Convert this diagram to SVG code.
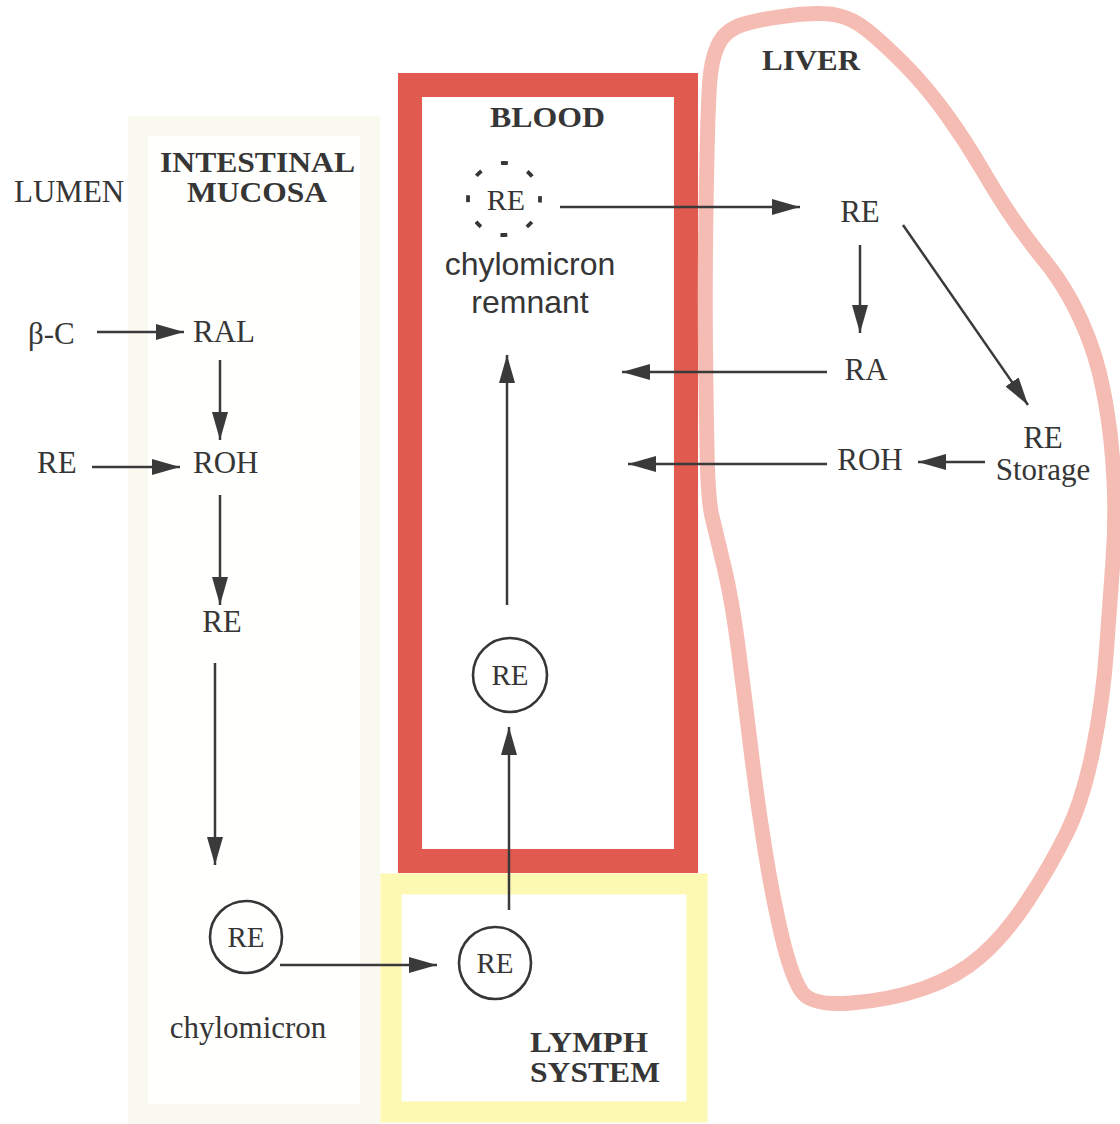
<svg xmlns="http://www.w3.org/2000/svg" width="1120" height="1124" viewBox="0 0 1120 1124">
<style>
.t{font-family:"Liberation Serif","Times New Roman",serif;font-size:31px;fill:#363636}
.b{font-family:"Liberation Serif","Times New Roman",serif;font-size:29px;font-weight:bold;fill:#363636}
.s{font-family:"Liberation Sans",Arial,sans-serif;font-size:32px;fill:#363636}
.c{fill:none;stroke:#363636;stroke-width:2.6}
.a{stroke:#3a3a3a;stroke-width:2.5;fill:none}
</style>
<defs>
<marker id="ah" markerUnits="userSpaceOnUse" markerWidth="30" markerHeight="18" refX="28" refY="8" orient="auto">
<path d="M0,0 L28,8 L0,16 Z" fill="#3a3a3a"/>
</marker>
</defs>
<rect width="1120" height="1124" fill="#ffffff"/>
<g id="mucosa">
<rect x="138" y="126" width="232" height="988" fill="#fffffd" stroke="#faf9ef" stroke-width="20"/>
<text class="b" x="160" y="172" textLength="195" lengthAdjust="spacingAndGlyphs">INTESTINAL</text>
<text class="b" x="187" y="202" textLength="140" lengthAdjust="spacingAndGlyphs">MUCOSA</text>
</g>
<g id="lymph">
<rect x="391" y="884" width="306" height="228" fill="#ffffff" stroke="#fdf9b2" stroke-width="21"/>
<text class="b" x="530" y="1052" textLength="118" lengthAdjust="spacingAndGlyphs">LYMPH</text>
<text class="b" x="530" y="1082" textLength="130" lengthAdjust="spacingAndGlyphs">SYSTEM</text>
</g>
<g id="blood">
<rect x="410" y="85" width="276" height="776" fill="#ffffff" stroke="#e05a50" stroke-width="24"/>
<text class="b" x="490" y="127" textLength="115" lengthAdjust="spacingAndGlyphs">BLOOD</text>
</g>
<g id="liver">
<path d="M707,450 Q706,400 705.5,350 Q705,300 705.5,250 Q706,200 707,155 Q708,110 709.5,85 Q711,60 718,45 Q725,30 742.5,24.5 Q760,19 790,15.5 Q820,12 836,15 Q852,18 867,30 Q882,42 903.5,63.5 Q925,85 945,112.5 Q965,140 982.5,170 Q1000,200 1015,221.5 Q1030,243 1044,260 Q1058,277 1070,298.5 Q1082,320 1091,345 Q1100,370 1106,405 Q1112,440 1114,480 Q1116,520 1113,560 Q1110,600 1106.5,650 Q1103,700 1093,750 Q1083,800 1066.5,833.5 Q1050,867 1027.5,901 Q1005,935 981,956 Q957,977 923.5,988.5 Q890,1000 851,1003 Q812,1006 802,992 Q792,978 782.5,939 Q773,900 765,850 Q757,800 751,750 Q745,700 738.5,650 Q732,600 724,566.5 Q716,533 712,516.5 Q708,500 707,450 Z" fill="none" stroke="#f5bcb3" stroke-width="15" stroke-linejoin="round"/>
<text class="b" x="762" y="70" textLength="98" lengthAdjust="spacingAndGlyphs">LIVER</text>
</g>
<g id="lumen"><text class="t" x="14" y="202">LUMEN</text></g>
<g id="bc"><text class="t" x="28" y="344">β-C</text></g>
<g id="ral"><text class="t" x="193" y="342">RAL</text></g>
<g id="re-lumen"><text class="t" x="37" y="473">RE</text></g>
<g id="roh-muc"><text class="t" x="193" y="473">ROH</text></g>
<g id="re-muc"><text class="t" x="222" y="632" text-anchor="middle">RE</text></g>
<g id="chylo">
<circle class="c" cx="246" cy="937" r="36"/>
<text class="t" x="246" y="947" text-anchor="middle" style="font-size:29px">RE</text>
<text class="t" x="248" y="1038" text-anchor="middle">chylomicron</text>
</g>
<g id="chylo-lymph">
<circle class="c" cx="495" cy="963" r="36"/>
<text class="t" x="495" y="973" text-anchor="middle" style="font-size:29px">RE</text>
</g>
<g id="chylo-blood">
<circle class="c" cx="510" cy="675" r="37"/>
<text class="t" x="510" y="685" text-anchor="middle" style="font-size:29px">RE</text>
</g>
<g id="remnant">
<circle cx="504" cy="199" r="36" fill="none" stroke="#363636" stroke-width="3.8" stroke-dasharray="7 21.3" stroke-dashoffset="3.5"/>
<text class="t" x="506" y="210" text-anchor="middle" style="font-size:30px">RE</text>
<text class="s" x="530" y="275" text-anchor="middle">chylomicron</text>
<text class="s" x="530" y="313" text-anchor="middle">remnant</text>
</g>
<g id="re-liver"><text class="t" x="860" y="222" text-anchor="middle">RE</text></g>
<g id="ra-liver"><text class="t" x="866" y="380" text-anchor="middle">RA</text></g>
<g id="roh-liver"><text class="t" x="870" y="470" text-anchor="middle">ROH</text></g>
<g id="storage">
<text class="t" x="1043" y="448" text-anchor="middle">RE</text>
<text class="t" x="1043" y="480" text-anchor="middle">Storage</text>
</g>
<g id="connectors">
<line class="a" x1="97" y1="332" x2="184" y2="332" marker-end="url(#ah)"/>
<line class="a" x1="220" y1="360" x2="220" y2="440" marker-end="url(#ah)"/>
<line class="a" x1="92" y1="467" x2="180" y2="467" marker-end="url(#ah)"/>
<line class="a" x1="220" y1="495" x2="220" y2="605" marker-end="url(#ah)"/>
<line class="a" x1="215" y1="663" x2="215" y2="865" marker-end="url(#ah)"/>
<line class="a" x1="280" y1="965" x2="437" y2="965" marker-end="url(#ah)"/>
<line class="a" x1="509" y1="910" x2="509" y2="727" marker-end="url(#ah)"/>
<line class="a" x1="507" y1="605" x2="507" y2="355" marker-end="url(#ah)"/>
<line class="a" x1="560" y1="207" x2="800" y2="207" marker-end="url(#ah)"/>
<line class="a" x1="860" y1="245" x2="860" y2="333" marker-end="url(#ah)"/>
<line class="a" x1="903" y1="225" x2="1028" y2="405" marker-end="url(#ah)"/>
<line class="a" x1="827" y1="372" x2="622" y2="372" marker-end="url(#ah)"/>
<line class="a" x1="985" y1="462" x2="918" y2="462" marker-end="url(#ah)"/>
<line class="a" x1="827" y1="464" x2="628" y2="464" marker-end="url(#ah)"/>
</g>
</svg>
